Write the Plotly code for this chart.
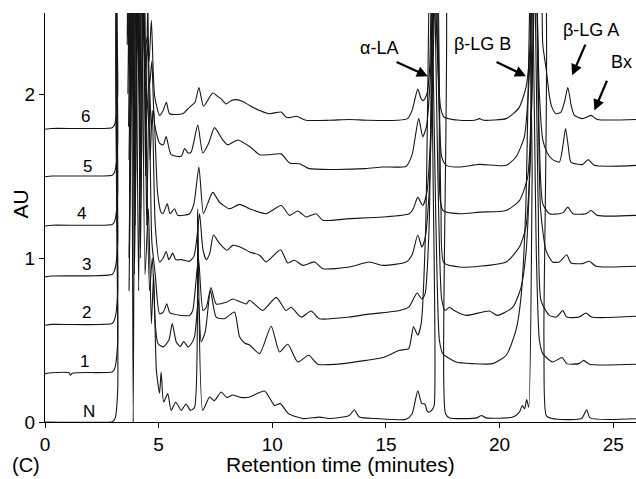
import plotly.graph_objects as go

# ---- chromatogram traces (retention time in minutes, absorbance in AU) ----
t6 = [0, 0.3, 2.95, 3.05, 3.12, 3.2, 3.27, 3.52, 3.62, 3.72, 3.85, 3.95, 4.1, 4.22, 4.38, 4.5, 4.58, 4.68, 4.82,
      5.04, 5.2, 5.34, 5.48, 6.06, 6.36, 6.6, 6.77, 6.97, 7.15, 7.38, 7.6, 7.75, 7.97, 8.2, 8.41, 8.7, 9.0, 9.44, 9.88,
      10.1, 10.39, 10.6, 10.76, 11.05, 11.49, 12.5, 13.4, 14.2, 15.5, 15.95, 16.15, 16.4, 16.55, 16.65, 16.8, 16.92, 17.05, 17.28, 17.4,
      17.55, 18.23, 18.9, 19.11, 19.3, 20.29, 20.6, 20.87, 21.16, 21.35, 21.5, 21.72, 21.9, 22.04, 22.2, 22.3, 22.48, 22.7, 22.85, 23.0,
      23.15, 23.29, 23.65, 23.85, 24.02, 24.3, 26]
au6 = [1.785, 1.79, 1.795, 1.81, 1.85, 2.0, 3.0, 3.0, 2.3, 3.0, 2.35, 3.0, 2.25, 3.0, 2.25, 2.35, 2.2, 2.45, 1.99,
       1.87, 1.9, 1.95, 1.88, 1.88, 1.92, 1.95, 2.04, 1.925, 1.96, 2.006, 1.985, 1.97, 1.94, 1.96, 1.966, 1.955, 1.93, 1.90, 1.88,
       1.885, 1.89, 1.86, 1.856, 1.864, 1.84, 1.84, 1.845, 1.84, 1.84, 1.85, 1.9, 2.03, 1.97, 1.96, 2.0, 2.15, 3.0, 2.2, 1.92,
       1.86, 1.84, 1.84, 1.85, 1.84, 1.85, 1.88, 1.92, 2.04, 2.3, 3.0, 3.0, 2.3, 2.16, 1.98, 1.92, 1.88, 1.89, 1.95, 2.04,
       1.93, 1.87, 1.85, 1.86, 1.87, 1.845, 1.845]

t5 = [0, 0.3, 2.95, 3.05, 3.12, 3.2, 3.28, 3.55, 3.65, 3.75, 3.88, 3.98, 4.12, 4.25, 4.4, 4.52, 4.6, 4.7, 4.82,
      5.04, 5.2, 5.33, 5.55, 5.99, 6.14, 6.3, 6.43, 6.72, 6.94, 7.2, 7.46, 7.82, 8.04, 8.48, 9.0, 9.44, 9.88, 10.39, 10.76,
      11.2, 11.63, 12.66, 14.1, 14.86, 15.89, 16.15, 16.44, 16.62, 16.78, 16.95, 17.15, 17.3, 17.45, 17.65, 18.23, 19.11, 20.29, 20.72, 21.09,
      21.3, 21.55, 21.75, 21.9, 22.1, 22.33, 22.63, 22.78, 22.9, 23.02, 23.14, 23.65, 23.9, 24.17, 26]
au5 = [1.495, 1.5, 1.505, 1.52, 1.56, 1.7, 3.0, 3.0, 2.0, 3.0, 1.9, 3.0, 2.1, 3.0, 2.1, 2.3, 2.05, 2.2, 1.82,
       1.70, 1.69, 1.74, 1.63, 1.62, 1.667, 1.64, 1.646, 1.81, 1.64, 1.7, 1.795, 1.72, 1.69, 1.72, 1.68, 1.63, 1.63, 1.635, 1.58,
       1.575, 1.545, 1.54, 1.545, 1.555, 1.56, 1.63, 1.85, 1.74, 1.8, 2.1, 3.0, 2.1, 1.62, 1.565, 1.555, 1.571, 1.565, 1.616, 1.74,
       2.1, 3.0, 2.0, 1.72, 1.64, 1.60, 1.585, 1.68, 1.79, 1.68, 1.585, 1.57, 1.60, 1.565, 1.565]

t4 = [0, 0.3, 2.95, 3.05, 3.12, 3.2, 3.3, 3.58, 3.68, 3.8, 3.92, 4.03, 4.15, 4.3, 4.45, 4.58, 4.68, 4.78, 4.95,
      5.1, 5.19, 5.38, 5.5, 5.7, 5.84, 6.36, 6.55, 6.77, 6.97, 7.15, 7.38, 7.68, 8.12, 8.56, 9.0, 9.73, 10.39, 10.76, 11.12,
      11.49, 11.93, 12.22, 13.39, 14.86, 16.03, 16.2, 16.4, 16.62, 16.8, 16.95, 17.2, 17.35, 17.5, 18.23, 19.11, 20.29, 20.87, 21.23, 21.4,
      21.6, 21.75, 21.9, 22.19, 22.63, 22.82, 23.0, 23.22, 23.8, 24.02, 24.3, 26]
au4 = [1.195, 1.2, 1.205, 1.22, 1.26, 1.4, 3.0, 3.0, 1.8, 3.0, 1.7, 3.0, 1.9, 3.0, 1.8, 2.1, 1.8, 1.9, 1.4,
       1.28, 1.27, 1.33, 1.27, 1.30, 1.26, 1.27, 1.33, 1.555, 1.27, 1.33, 1.40, 1.34, 1.30, 1.327, 1.30, 1.27, 1.32, 1.26, 1.287,
       1.25, 1.27, 1.23, 1.24, 1.25, 1.27, 1.3, 1.37, 1.32, 1.4, 1.7, 3.0, 1.9, 1.29, 1.27, 1.28, 1.29, 1.35, 1.49, 1.9,
       3.0, 1.7, 1.33, 1.27, 1.27, 1.28, 1.31, 1.27, 1.27, 1.29, 1.26, 1.26]

t3 = [0, 0.3, 2.95, 3.05, 3.12, 3.2, 3.3, 3.6, 3.7, 3.82, 3.95, 4.07, 4.2, 4.32, 4.42, 4.52, 4.62, 4.72, 4.85, 5.04,
      5.2, 5.33, 5.45, 5.62, 5.75, 6.0, 6.36, 6.55, 6.68, 6.8, 6.95, 7.1, 7.25, 7.41, 7.68, 8.0, 8.26, 8.7, 9.0, 9.44,
      9.73, 10.36, 10.68, 10.98, 11.34, 11.86, 12.22, 13.39, 14.27, 14.86, 15.89, 16.15, 16.4, 16.58, 16.72, 16.9, 17.25, 17.42, 17.55, 18.23,
      19.11, 20.29, 20.87, 21.16, 21.35, 21.58, 21.8, 22.04, 22.33, 22.63, 22.95, 23.14, 23.65, 23.95, 24.24, 26]
au3 = [0.885, 0.89, 0.9, 0.92, 0.96, 1.1, 3.0, 3.0, 1.6, 3.0, 1.5, 3.0, 1.6, 3.0, 1.5, 2.6, 1.6, 1.9, 1.2, 0.976,
       1.0, 1.04, 0.99, 1.03, 0.99, 0.99, 0.98, 1.01, 1.12, 1.27, 1.05, 0.99, 1.03, 1.14, 1.088, 1.047, 1.077, 1.06, 1.037, 1.017,
       0.976, 1.05, 0.97, 0.986, 0.955, 0.976, 0.935, 0.945, 0.976, 0.955, 0.976, 1.02, 1.14, 1.067, 1.12, 1.4, 3.0, 1.3, 0.97, 0.945,
       0.95, 0.976, 1.067, 1.19, 1.6, 3.0, 1.3, 1.047, 0.976, 0.976, 1.02, 0.97, 0.966, 0.98, 0.95, 0.95]

t2 = [0, 0.3, 2.95, 3.05, 3.12, 3.2, 3.32, 3.62, 3.72, 3.85, 3.97, 4.1, 4.22, 4.35, 4.47, 4.58, 4.7, 4.85, 5.04, 5.2,
      5.36, 5.5, 6.36, 6.5, 6.75, 6.95, 7.1, 7.3, 7.53, 7.97, 8.26, 8.85, 9.0, 9.58, 10.17, 10.6, 10.83, 11.27, 11.71, 12.07,
      13.39, 14.1, 15.6, 16.0, 16.37, 16.58, 16.72, 16.9, 17.08, 17.3, 17.45, 17.6, 17.79, 18.0, 18.53, 19.55, 19.9, 20.58, 20.94, 21.16,
      21.32, 21.5, 21.7, 21.82, 22.19, 22.5, 22.78, 22.95, 23.5, 23.8, 24.05, 26]
au2 = [0.59, 0.595, 0.6, 0.62, 0.66, 0.8, 3.0, 3.0, 1.4, 3.0, 1.2, 3.0, 1.3, 3.0, 1.2, 2.0, 1.1, 0.9, 0.66, 0.67,
       0.72, 0.665, 0.65, 0.68, 1.0, 0.68, 0.7, 0.82, 0.72, 0.73, 0.75, 0.72, 0.742, 0.68, 0.76, 0.68, 0.70, 0.64, 0.677, 0.63,
       0.64, 0.655, 0.68, 0.7, 0.787, 0.75, 0.78, 1.2, 3.0, 1.4, 0.75, 0.68, 0.70, 0.68, 0.65, 0.677, 0.65, 0.70, 0.82, 1.03,
       1.5, 3.0, 1.3, 0.74, 0.65, 0.64, 0.68, 0.64, 0.64, 0.665, 0.64, 0.645]

t1 = [0, 0.3, 1.05, 1.12, 1.2, 2.95, 3.05, 3.12, 3.2, 3.33, 3.6, 3.7, 3.82, 3.94, 4.07, 4.2, 4.34, 4.47, 4.6, 4.72,
      4.85, 4.97, 5.2, 5.45, 5.6, 5.77, 5.95, 6.1, 6.3, 6.45, 6.58, 6.75, 6.87, 7.05, 7.28, 7.53, 7.9, 8.1, 8.34, 8.56,
      8.8, 9.0, 9.44, 9.95, 10.32, 10.68, 11.12, 11.6, 12.0, 12.81, 14.13, 14.86, 15.6, 16.0, 16.21, 16.4, 16.55, 16.75, 16.95, 17.2,
      17.35, 17.5, 18.08, 18.82, 19.7, 20.29, 20.72, 20.94, 21.15, 21.4, 21.62, 21.75, 21.9, 22.33, 22.75, 22.95, 23.5, 23.7, 23.95, 26]
au1 = [0.295, 0.3, 0.3, 0.285, 0.298, 0.305, 0.32, 0.36, 0.5, 3.0, 3.0, 1.0, 3.0, 0.9, 3.0, 1.0, 3.0, 1.6, 0.8, 1.0,
       0.6, 0.478, 0.458, 0.5, 0.6, 0.49, 0.46, 0.49, 0.457, 0.48, 0.52, 0.75, 0.49, 0.55, 0.80, 0.64, 0.63, 0.65, 0.67, 0.52,
       0.48, 0.47, 0.417, 0.584, 0.427, 0.474, 0.366, 0.407, 0.352, 0.352, 0.376, 0.393, 0.437, 0.447, 0.58, 0.53, 0.6, 1.2, 3.0, 1.2,
       0.5, 0.417, 0.366, 0.356, 0.356, 0.407, 0.56, 0.76, 1.3, 3.0, 1.0, 0.5, 0.417, 0.366, 0.393, 0.356, 0.356, 0.376, 0.352, 0.352]

tN = [0, 2.9, 3.0, 3.1, 3.2, 3.33, 3.6, 3.7, 3.8, 3.88, 3.98, 4.12, 4.25, 4.4, 4.55, 4.68, 4.78, 4.9, 5.04, 5.11,
      5.22, 5.4, 5.55, 5.75, 6.0, 6.2, 6.4, 6.58, 6.72, 6.94, 7.24, 7.45, 7.75, 8.0, 8.26, 8.6, 9.0, 9.66, 10.1, 10.35,
      10.71, 11.34, 12.07, 12.5, 13.39, 13.61, 13.83, 14.57, 15.89, 16.15, 16.4, 16.58, 16.71, 16.8, 16.88, 17.0, 17.12, 17.2, 17.5, 17.62,
      17.8, 19.0, 19.2, 19.4, 20.58, 20.87, 21.0, 21.1, 21.19, 21.28, 21.43, 21.5, 21.85, 21.95, 22.05, 22.3, 23.6, 23.83, 23.98, 26]
auN = [0, 0, 0.005, 0.03, 0.2, 3.0, 3.0, 0.8, 3.0, -0.01, 3.0, 0.8, 3.0, 0.9, 1.3, 0.6, 0.9, 0.315, 0.175, 0.305,
       0.122, 0.173, 0.071, 0.12, 0.071, 0.11, 0.071, 0.09, 1.3, 0.071, 0.152, 0.13, 0.183, 0.15, 0.165, 0.15, 0.152, 0.189, 0.10, 0.112,
       0.051, 0.021, 0.03, 0.021, 0.04, 0.075, 0.03, 0.021, 0.017, 0.05, 0.19, 0.112, 0.11, 0.071, 0.06, 0.07, 0.1, 3.0, 3.0, 0.05,
       0.025, 0.025, 0.04, 0.025, 0.03, 0.06, 0.1, 0.08, 0.137, 0.09, 1.5, 3.0, 3.0, 0.5, 0.04, 0.021, 0.021, 0.075, 0.025, 0.02]

# ---- trace labels ----
label_text = ["6", "5", "4", "3", "2", "1", "N"]
label_x = [1.78, 1.87, 1.6, 1.83, 1.83, 1.74, 1.92]
label_y = [1.86, 1.56, 1.27, 0.96, 0.67, 0.37, 0.065]

# ---- peak annotations: text position, arrow tail, arrow tip ----
peak_names = ["α-LA", "β-LG B", "β-LG A", "Bx"]
peak_text_x = [14.71, 19.26, 24.02, 25.34]
peak_text_y = [2.283, 2.307, 2.388, 2.195]
arrow_tail_x = [15.4, 19.8, 23.8, 24.75]
arrow_tail_y = [2.20, 2.20, 2.31, 2.09]
arrow_tip_x = [16.84, 21.16, 23.19, 24.17]
arrow_tip_y = [2.108, 2.108, 2.114, 1.90]

series = [(t6, au6), (t5, au5), (t4, au4), (t3, au3), (t2, au2), (t1, au1), (tN, auN)]

FONT = "Liberation Sans, Arial, Helvetica, sans-serif"
fig = go.Figure()
for t, a in series:
    assert len(t) == len(a), (len(t), len(a))
    fig.add_trace(go.Scatter(x=t, y=a, mode="lines",
                             line=dict(color="#161616", width=1.1, shape="spline", smoothing=0.6),
                             showlegend=False, hoverinfo="skip"))

annotations = []
for s, x, y in zip(label_text, label_x, label_y):
    annotations.append(dict(x=x, y=y, xref="x", yref="y", text=s, showarrow=False,
                            font=dict(size=17, color="black", family=FONT),
                            xanchor="center", yanchor="middle"))
for s, x, y in zip(peak_names, peak_text_x, peak_text_y):
    annotations.append(dict(x=x, y=y, xref="x", yref="y", text=s, showarrow=False,
                            font=dict(size=18, color="black", family=FONT),
                            xanchor="center", yanchor="middle"))
for tx, ty, hx, hy in zip(arrow_tail_x, arrow_tail_y, arrow_tip_x, arrow_tip_y):
    annotations.append(dict(x=hx, y=hy, xref="x", yref="y", ax=tx, ay=ty, axref="x", ayref="y",
                            text="", showarrow=True, arrowhead=2, arrowsize=1,
                            arrowwidth=2.2, arrowcolor="black", standoff=0))

annotations.append(dict(x=0.5, y=-0.105, xref="paper", yref="paper", text="Retention time (minutes)",
                        showarrow=False, font=dict(size=21, color="black", family=FONT),
                        xanchor="center", yanchor="middle"))
annotations.append(dict(x=-0.043, y=0.533, xref="paper", yref="paper", text="AU", textangle=-90,
                        showarrow=False, font=dict(size=21, color="black", family=FONT),
                        xanchor="center", yanchor="middle"))
annotations.append(dict(x=-0.032, y=-0.105, xref="paper", yref="paper", text="(C)",
                        showarrow=False, font=dict(size=20, color="black", family=FONT),
                        xanchor="center", yanchor="middle"))

fig.update_layout(
    width=636, height=479,
    margin=dict(l=45, r=0, t=13, b=57),
    paper_bgcolor="white", plot_bgcolor="white",
    font=dict(family=FONT, color="black"),
    annotations=annotations,
    xaxis=dict(range=[0, 26], tickvals=[0, 5, 10, 15, 20, 25], showgrid=False, zeroline=False,
               showline=True, linecolor="black", linewidth=1, ticks="outside", ticklen=5,
               tickcolor="black", tickfont=dict(size=19, family=FONT, color="black")),
    yaxis=dict(range=[0, 2.494], tickvals=[0, 1, 2], showgrid=False, zeroline=False,
               showline=True, linecolor="black", linewidth=1, ticks="outside", ticklen=5,
               tickcolor="black", tickfont=dict(size=19, family=FONT, color="black")),
)

fig.write_html("out.html")
